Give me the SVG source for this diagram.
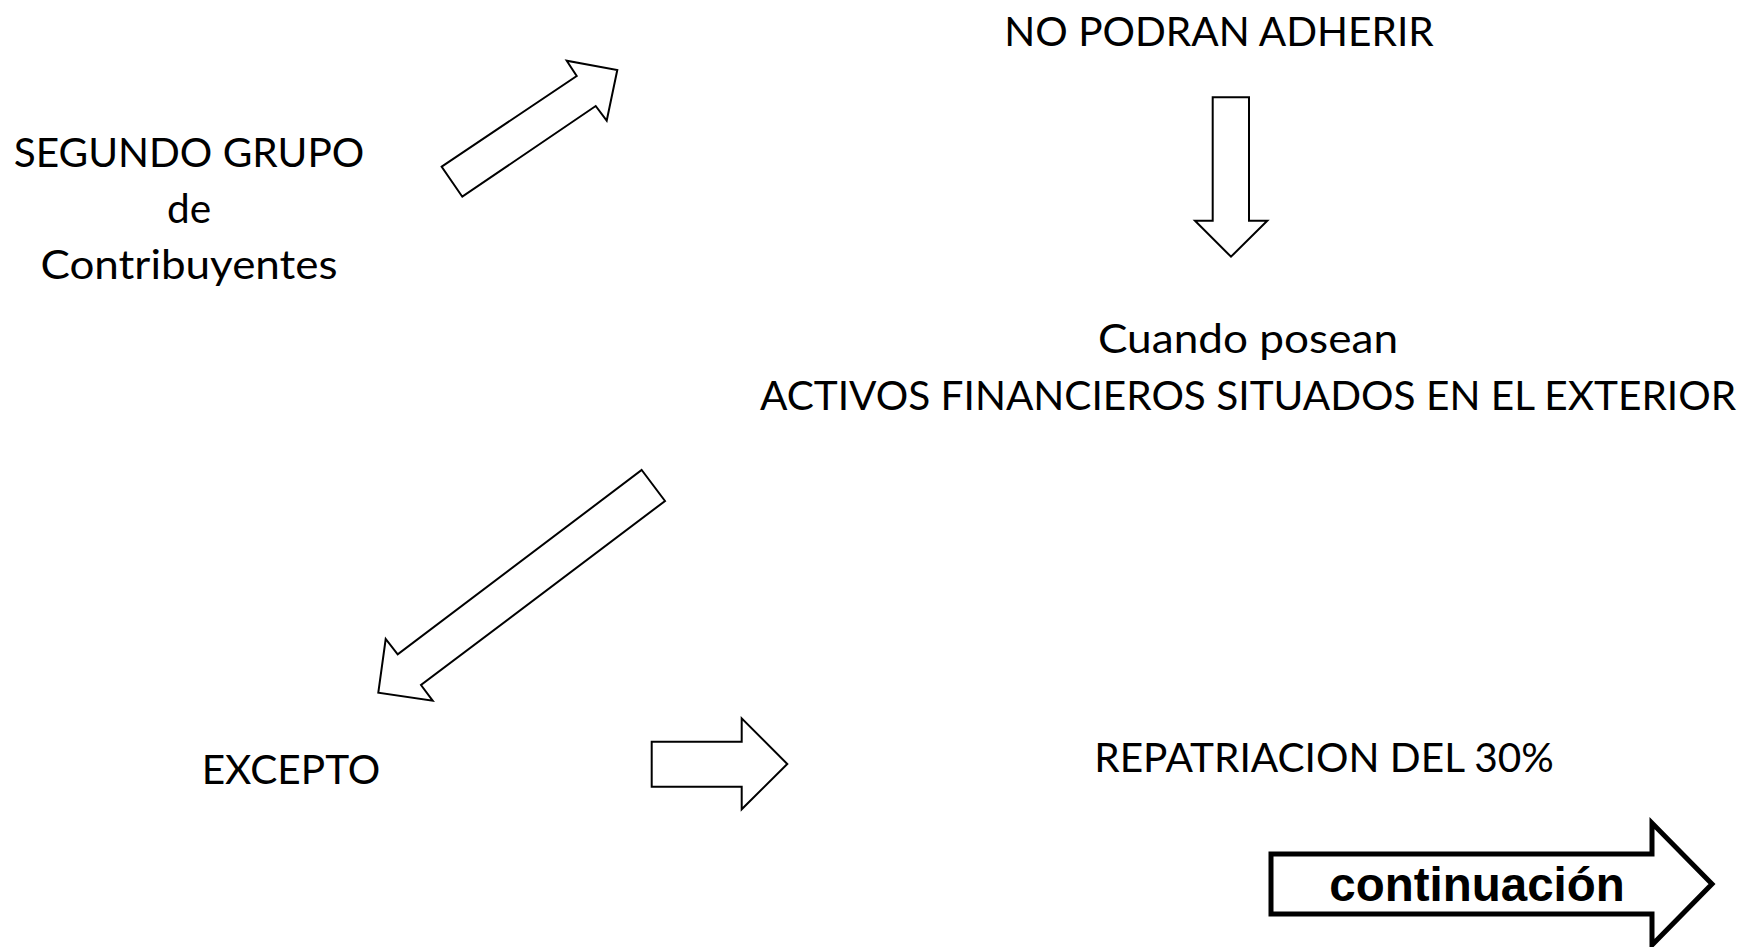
<svg xmlns="http://www.w3.org/2000/svg" width="1740" height="947" viewBox="0 0 1740 947">
<style>
.t{font-family:Lato,"Liberation Sans",sans-serif;font-size:40.6px;fill:#000;text-anchor:middle}
.b{font-family:"Liberation Sans",Arial,sans-serif;font-size:47.5px;font-weight:bold;fill:#000;text-anchor:middle}
.a{fill:#fff;stroke:#000;stroke-width:2;stroke-linejoin:miter}
.ak{fill:#fff;stroke:#000;stroke-width:5;stroke-linejoin:miter}
</style>
<rect width="1740" height="947" fill="#fff"/>
<g id="segundo-grupo">
<text class="t" x="189" y="167">SEGUNDO GRUPO</text>
<text class="t" x="189" y="223">de</text>
<text class="t" x="189" y="279" textLength="297" lengthAdjust="spacingAndGlyphs">Contribuyentes</text>
</g>
<g id="no-podran">
<text class="t" x="1219" y="46">NO PODRAN ADHERIR</text>
</g>
<g id="cuando-posean">
<text class="t" x="1248" y="353" textLength="300" lengthAdjust="spacingAndGlyphs">Cuando posean</text>
<text class="t" x="1248" y="410">ACTIVOS FINANCIEROS SITUADOS EN EL EXTERIOR</text>
</g>
<g id="excepto">
<text class="t" x="291" y="784">EXCEPTO</text>
</g>
<g id="repatriacion">
<text class="t" x="1324" y="772">REPATRIACION DEL 30%</text>
</g>
<g id="connectors">
<polygon class="a" points="441.7,166.7 576.7,76 566.7,60.7 617.3,70 606.7,120.7 595.7,106 462.3,196.7"/>
<polygon class="a" points="1212.7,97.3 1249,97.3 1249,220.7 1267.3,220.7 1231,256.7 1195,220.7 1212.7,220.7"/>
<polygon class="a" points="641.7,470 665,501 421,685 432.7,700.7 378.3,692.7 385.7,639 397.7,654.3"/>
<polygon class="a" points="651.7,741.7 741.7,741.7 741.7,718.3 787.3,764 741.7,809.3 741.7,786.7 651.7,786.7"/>
</g>
<g id="continuacion">
<polygon class="ak" points="1271,854 1652,854 1652,823 1712,884 1652,945 1652,914 1271,914"/>
<text class="b" x="1477" y="901">continuación</text>
</g>
</svg>
